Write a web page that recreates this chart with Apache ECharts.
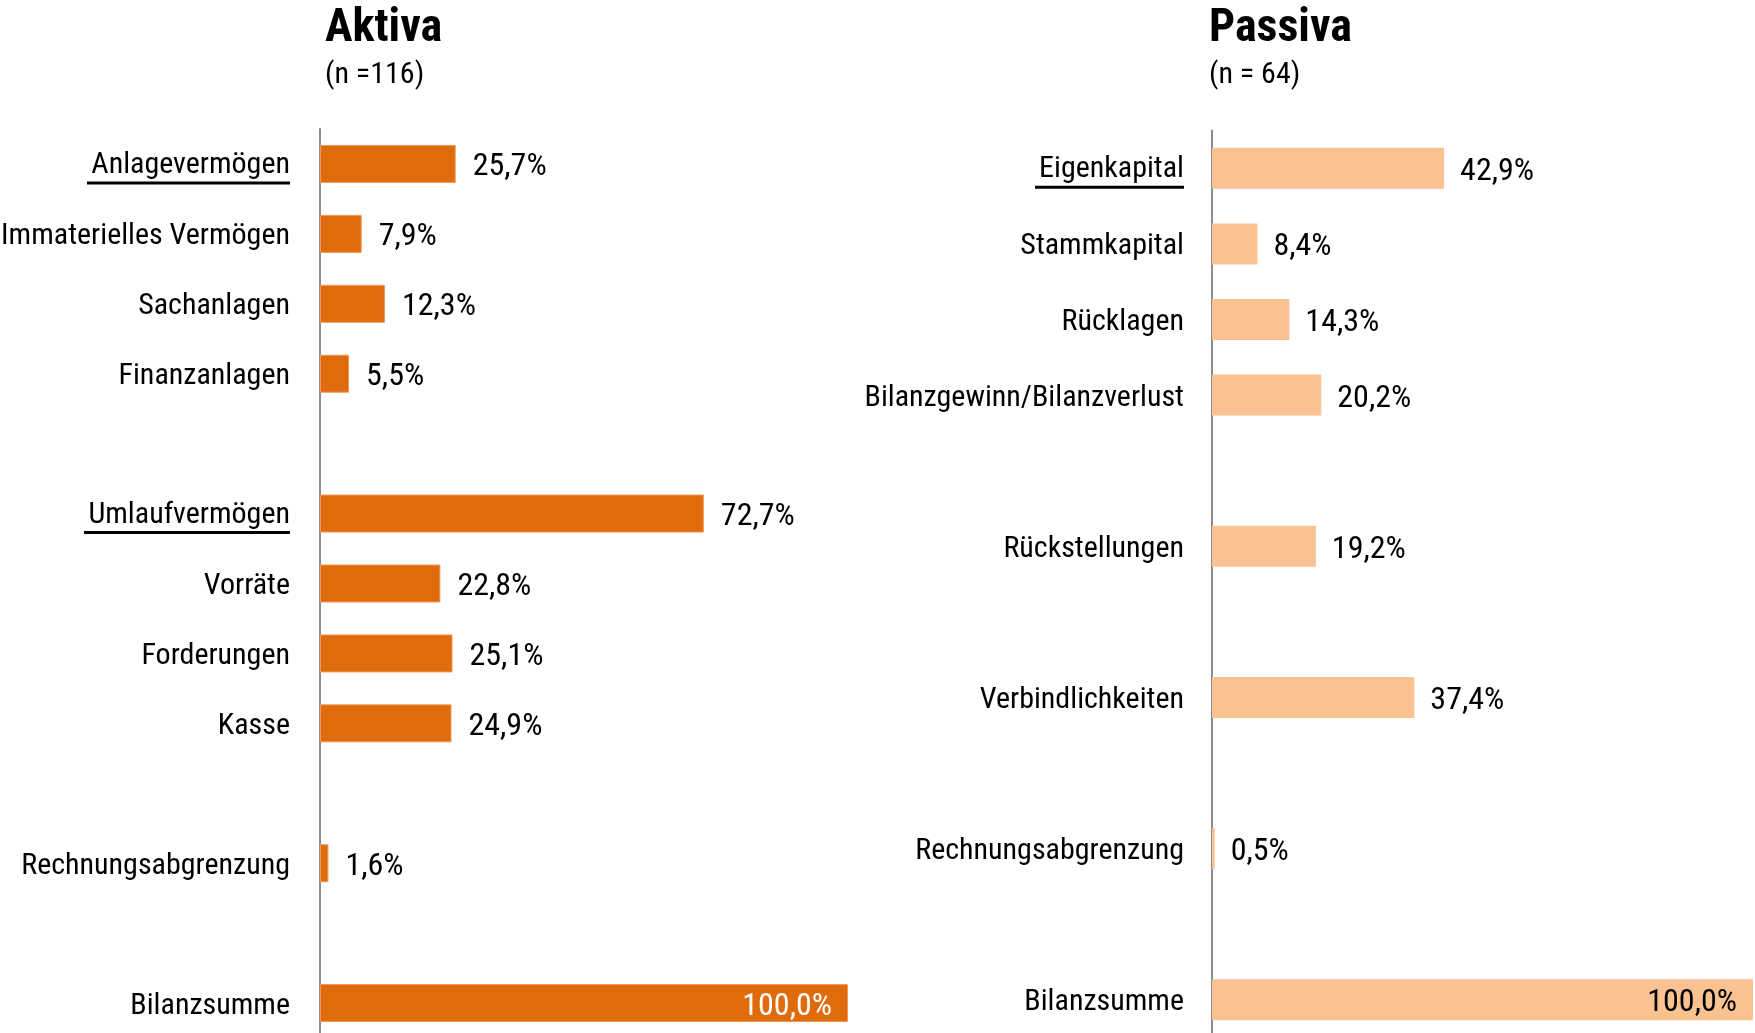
<!DOCTYPE html>
<html>
<head>
<meta charset="utf-8">
<script src="https://cdn.jsdelivr.net/npm/echarts@6/dist/echarts.min.js"></script>
<style>
  html, body { margin: 0; padding: 0; background: #fff; }
  #chart { width: 1755px; height: 1033px; }
</style>
</head>
<body>
<div id="chart"></div>
<script>
// Balance sheet structure (share of total assets / liabilities, in %)
const aktivaCategories = [
  'Anlagevermögen', 'Immaterielles Vermögen', 'Sachanlagen', 'Finanzanlagen', '',
  'Umlaufvermögen', 'Vorräte', 'Forderungen', 'Kasse', '',
  'Rechnungsabgrenzung', '', 'Bilanzsumme'
];
const aktivaValues = [25.7, 7.9, 12.3, 5.5, null, 72.7, 22.8, 25.1, 24.9, null, 1.6, null, 100.0];
const aktivaHeads = ['Anlagevermögen', 'Umlaufvermögen'];

const passivaCategories = [
  'Eigenkapital', 'Stammkapital', 'Rücklagen', 'Bilanzgewinn/Bilanzverlust', '',
  'Rückstellungen', '', 'Verbindlichkeiten', '', 'Rechnungsabgrenzung', '', 'Bilanzsumme'
];
const passivaValues = [42.9, 8.4, 14.3, 20.2, null, 19.2, null, 37.4, null, 0.5, null, 100.0];
const passivaHeads = ['Eigenkapital'];

const titles = ['Aktiva', 'Passiva'];
const subtitles = ['(n =116)', '(n = 64)'];

const FONT = '"Roboto Condensed", "Liberation Sans Narrow", "Arial Narrow", sans-serif';
const LABEL_SIZE = 30;
const VALUE_SIZE = 32;
const AXIS_TEXT_SHIFT = [6, 0, 0, 0];   // nudges category labels down so they sit centred on the bars
const VALUE_TEXT_OFFSET = [0, 3.5];     // same nudge for the value labels
const AKTIVA_COLOR = '#E06B0D';
const PASSIVA_COLOR = '#FAC191';

const fmt = v => v.toFixed(1).replace('.', ',') + '%';

// measure label widths so section headings get an underline of matching length
const measureCtx = document.createElement('canvas').getContext('2d');
function textWidth(s) {
  measureCtx.font = LABEL_SIZE + 'px ' + FONT;
  return measureCtx.measureText(s).width;
}

function buildAxisLabel(heads, margin) {
  const rich = {
    t: { fontSize: LABEL_SIZE, fontFamily: FONT, color: '#000', lineHeight: 32, align: 'right' }
  };
  heads.forEach((h, i) => {
    rich['u' + i] = {
      width: Math.round(textWidth(h) + 4), height: 3, lineHeight: 3,
      fontSize: 2, backgroundColor: '#000', align: 'right'
    };
  });
  return {
    margin: margin,
    fontSize: LABEL_SIZE,
    fontFamily: FONT,
    color: '#000',
    interval: 0,
    padding: AXIS_TEXT_SHIFT,
    rich: rich,
    formatter: function (v) {
      const idx = heads.indexOf(v);
      if (idx >= 0) return '{t|' + v + '}\n{u' + idx + '| }';
      return v;
    }
  };
}

function buildData(values, totalLabelColor) {
  return values.map(v => {
    if (v === null) return '-';
    if (v === 100) {
      return {
        value: v,
        label: { position: 'insideRight', distance: 16, color: totalLabelColor }
      };
    }
    return v;
  });
}

const chart = echarts.init(document.getElementById('chart'), null, { renderer: 'canvas' });

const titleStyle = { fontFamily: FONT, fontSize: 46, fontWeight: 'bold', color: '#000' };
const subStyle = { fontFamily: FONT, fontSize: 30, color: '#000' };

const option = {
  backgroundColor: '#fff',
  animation: false,
  title: [
    { text: titles[0], subtext: subtitles[0], left: 320, top: 1, itemGap: 8, textStyle: titleStyle, subtextStyle: subStyle },
    { text: titles[1], subtext: subtitles[1], left: 1204, top: 1, itemGap: 8, textStyle: titleStyle, subtextStyle: subStyle }
  ],
  grid: [
    { left: 320, top: 129, width: 528, height: 909, containLabel: false, outerBoundsMode: 'none' },
    { left: 1212, top: 130.5, width: 541, height: 907, containLabel: false, outerBoundsMode: 'none' }
  ],
  xAxis: [
    { gridIndex: 0, type: 'value', min: 0, max: 100, show: false },
    { gridIndex: 1, type: 'value', min: 0, max: 100, show: false }
  ],
  yAxis: [
    {
      gridIndex: 0, type: 'category', inverse: true, data: aktivaCategories,
      axisTick: { show: false },
      axisLine: { show: true, lineStyle: { color: '#8c8c8c', width: 2 } },
      splitLine: { show: false },
      axisLabel: buildAxisLabel(aktivaHeads, 30)
    },
    {
      gridIndex: 1, type: 'category', inverse: true, data: passivaCategories,
      axisTick: { show: false },
      axisLine: { show: true, lineStyle: { color: '#8c8c8c', width: 2 } },
      splitLine: { show: false },
      axisLabel: buildAxisLabel(passivaHeads, 28)
    }
  ],
  series: [
    {
      type: 'bar', xAxisIndex: 0, yAxisIndex: 0,
      data: buildData(aktivaValues, '#fff'),
      barWidth: 38,
      itemStyle: { color: AKTIVA_COLOR, borderColor: '#EE9A5A', borderWidth: 1 },
      label: {
        show: true, position: 'right', distance: 17, offset: VALUE_TEXT_OFFSET,
        fontFamily: FONT, fontSize: VALUE_SIZE, color: '#000',
        formatter: p => fmt(p.value)
      }
    },
    {
      type: 'bar', xAxisIndex: 1, yAxisIndex: 1,
      data: buildData(passivaValues, '#000'),
      barWidth: 41,
      itemStyle: { color: PASSIVA_COLOR },
      label: {
        show: true, position: 'right', distance: 16, offset: VALUE_TEXT_OFFSET,
        fontFamily: FONT, fontSize: VALUE_SIZE, color: '#000',
        formatter: p => fmt(p.value)
      }
    }
  ]
};

chart.setOption(option);
</script>
</body>
</html>
